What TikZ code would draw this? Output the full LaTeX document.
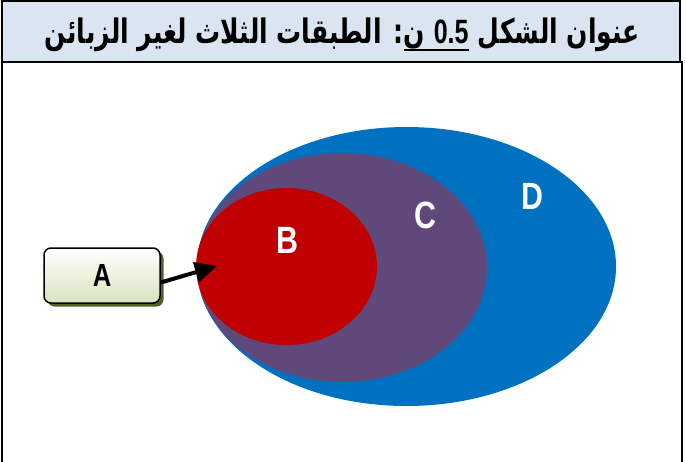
\documentclass[tikz,border=0pt]{standalone}
\usepackage{fontspec}
\setmainfont{Liberation Sans}
\newfontfamily\arabicfont[Script=Arabic]{DejaVu Sans}
\TeXXeTstate=1
\usetikzlibrary{arrows.meta,shapes.geometric,shadows}
\definecolor{hdr}{HTML}{DBE5F1}
\definecolor{dblue}{HTML}{0070C0}
\definecolor{cpurple}{HTML}{5F497A}
\definecolor{bred}{HTML}{C00000}
\definecolor{boxgreen}{HTML}{D7E4BD}
\definecolor{shadowgreen}{HTML}{4F6228}
\tikzset{
  frameline/.style={line width=2pt, line cap=rect},
  titletext/.style={inner sep=0pt, font=\arabicfont\bfseries\fontsize{25}{30}\selectfont},
  blob/.style={ellipse, inner sep=0pt, draw=none},
  lbl/.style={text=white, inner sep=0pt, font=\bfseries\fontsize{38}{42}\selectfont},
  abox/.style={draw=black, line width=1.5pt, rounded corners=7pt, minimum width=116pt, minimum height=55pt,
    top color=white, bottom color=boxgreen, inner sep=0pt,
    drop shadow={shadow xshift=3.5pt, shadow yshift=-3.5pt, fill=shadowgreen, opacity=1}},
  pointer/.style={line width=4pt, -{Triangle[length=22pt,width=20pt]}}
}
\newcommand{\tallA}[1]{\scalebox{1}[1.35]{#1}}
\begin{document}
\begin{tikzpicture}[x=1pt,y=-1pt]
\useasboundingbox (0,0) rectangle (686,461);
\fill[white] (0,0) rectangle (686,461);
% header
\fill[hdr] (2,1) rectangle (680,62);
\draw[frameline] (2,462) -- (2,1) -- (680,1) -- (680,62);
\draw[frameline] (2,62) -- (682,62) -- (682,462);
% title
\node[titletext, anchor=base east] (tR) at (640,43) {\tallA{\beginR عنوان الشكل\endR}};
\node[titletext, anchor=base east] (tM) at ([xshift=-9pt]tR.base west) {\tallA{\beginR\beginL{\rmfamily\bfseries 0.5}\endL\ ن\endR}};
\node[titletext, anchor=base east] (tL) at (tM.base west) {\tallA{\beginR: الطبقات الثلاث لغير الزبائن\endR}};
\draw[line width=1.8pt] ([yshift=-7pt]tM.base west) -- ([yshift=-7pt]tM.base east);
% ellipses
\node[blob, fill=dblue, minimum width=419pt, minimum height=279pt] (D) at (406.5,266.5) {};
\node[blob, fill=cpurple, minimum width=290pt, minimum height=229pt] (C) at (342,267.5) {};
\node[blob, fill=bred, minimum width=181pt, minimum height=157pt] (B) at (286.5,266.5) {};
\node[lbl] (lB) at (287,240) {\scalebox{0.8}[1]{B}};
\node[lbl] (lC) at (425,215) {\scalebox{0.8}[1]{C}};
\node[lbl] (lD) at (532,196) {\scalebox{0.8}[1]{D}};
% box A
\node[abox] (A) at (102,275.5) {\fontsize{32}{36}\selectfont\bfseries\scalebox{0.8}[1]{A}};
\coordinate (tip) at (217,266);
\draw[pointer] ([yshift=-7pt]A.east) -- (tip);
\end{tikzpicture}
\end{document}
